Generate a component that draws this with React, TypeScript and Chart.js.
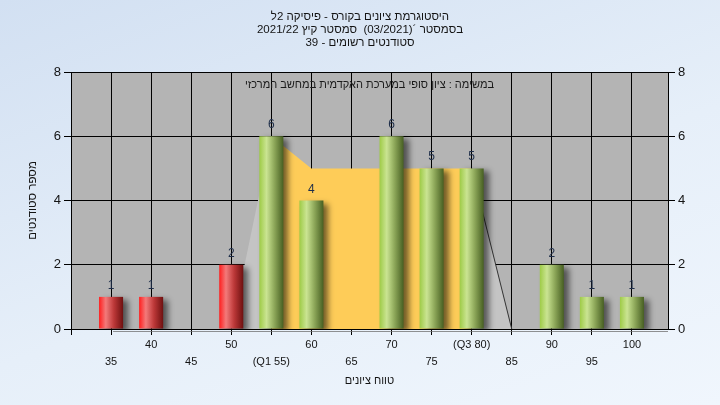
import React, { useEffect, useRef } from 'react';
import { Chart, registerables } from 'chart.js';

Chart.register(...registerables);

// ---------- data ----------
const gradeBins = [35, 40, 45, 50, 55, 60, 65, 70, 75, 80, 85, 90, 95, 100];
const studentCounts = [1, 1, 0, 2, 6, 4, 0, 6, 5, 5, 0, 2, 1, 1];
const passMark = 55;
const q1Grade = 55;
const q3Grade = 80;
const areaBins = [50, 55, 60, 65, 70, 75, 80, 85];
const areaValues = [0, 6, 5, 5, 5, 5, 5, 0];
const yMin = 0;
const yMax = 8;
const yStep = 2;
const xMin = 30;
const xMax = 104.5;
const xStep = 5;

const titleLines = [
  'היסטוגרמת ציונים בקורס - פיסיקה 2ל',
  'בסמסטר ´(03/2021)  סמסטר קיץ 2021/22',
  'סטודנטים רשומים - 39',
];
const subtitleText = 'במשימה : ציון סופי במערכת האקדמית במחשב המרכזי';
const xAxisTitle = 'טווח ציונים';
const yAxisTitle = 'מספר סטודנטים';

// ---------- helpers ----------
const FONT = "'Liberation Sans', Arial, sans-serif";
const TEXT = '#141414';
// render a Hebrew line as a right-to-left paragraph
const rtl = (s: string) => '\u2067' + s + '\u2069';

const tickText = gradeBins.map((g) =>
  g === q1Grade ? `(Q1 ${g})` : g === q3Grade ? `(Q3 ${g})` : String(g)
);

const redStops: [number, string][] = [
  [0, '#FF1E1E'],
  [0.28, '#F37A7A'],
  [0.62, '#BC3838'],
  [1, '#6E1010'],
];
const greenStops: [number, string][] = [
  [0, '#9ECB46'],
  [0.3, '#CAE492'],
  [0.62, '#8EA85A'],
  [1, '#475F22'],
];

const plotBg = {
  id: 'plotBg',
  beforeDraw(chart: any) {
    const { ctx, chartArea: a } = chart;
    ctx.save();
    ctx.fillStyle = '#B4B4B4';
    ctx.fillRect(a.left, a.top, a.right - a.left, a.bottom - a.top);
    ctx.restore();
  },
};

const barShadow = {
  id: 'barShadow',
  beforeDatasetDraw(chart: any, args: any) {
    if (chart.data.datasets[args.index].type !== 'bar') return;
    const c = chart.ctx;
    c.save();
    c.shadowColor = 'rgba(0,0,0,0.55)';
    c.shadowBlur = 6;
    c.shadowOffsetX = 5;
    c.shadowOffsetY = 3;
  },
  afterDatasetDraw(chart: any, args: any) {
    if (chart.data.datasets[args.index].type !== 'bar') return;
    chart.ctx.restore();
  },
};

const valueLabels = {
  id: 'valueLabels',
  afterDatasetsDraw(chart: any) {
    const c = chart.ctx;
    const a = chart.chartArea;
    const xs = chart.scales.x;
    // faint floor line under the bars
    c.save();
    c.strokeStyle = 'rgba(110,110,110,0.75)';
    c.lineWidth = 1;
    c.beginPath();
    c.moveTo(xs.getPixelForValue(gradeBins[0]) + 2, a.bottom + 2.5);
    c.lineTo(a.right, a.bottom + 2.5);
    c.stroke();
    c.restore();

    chart.data.datasets.forEach((ds: any, di: number) => {
      if (ds.type !== 'bar') return;
      const meta = chart.getDatasetMeta(di);
      meta.data.forEach((el: any, i: number) => {
        const v = ds.data[i].y;
        if (!v) return;
        c.save();
        c.font = `12px ${FONT}`;
        c.fillStyle = '#1E2E4A';
        c.textAlign = 'center';
        c.textBaseline = 'alphabetic';
        c.fillText(String(v), el.x, el.y - 8);
        c.restore();
      });
    });
    // subtitle inside the plot
    c.save();
    c.font = `11px ${FONT}`;
    c.fillStyle = '#1a1a1a';
    c.textAlign = 'center';
    c.textBaseline = 'middle';
    c.fillText(rtl(subtitleText), (a.left + a.right) / 2, a.top + 13);
    c.restore();
  },
};

export default function App() {
  const ref = useRef<HTMLCanvasElement>(null);

  useEffect(() => {
    const canvas = ref.current;
    if (!canvas) return;

    const barBg = (c: any) => {
      const chart = c.chart;
      const xs = chart.scales && chart.scales.x;
      if (c.type !== 'data' || !xs || !c.raw) return '#999';
      const xc = xs.getPixelForValue(c.raw.x);
      const half = Math.abs(xs.getPixelForValue(c.raw.x + 1.5) - xc);
      if (!isFinite(xc) || !isFinite(half) || half <= 0) return '#999';
      const g = chart.ctx.createLinearGradient(xc - half, 0, xc + half, 0);
      const stops = c.raw.x < passMark ? redStops : greenStops;
      stops.forEach(([o, col]) => g.addColorStop(o, col));
      return g;
    };

    const chart = new Chart(canvas, {
      type: 'bar',
      data: {
        datasets: [
          {
            type: 'line',
            data: areaBins.map((b, i) => ({ x: b, y: areaValues[i] })),
            fill: 'origin',
            pointRadius: 0,
            borderWidth: 1,
            tension: 0,
            order: 2,
            backgroundColor: '#C6C6C6',
            borderColor: 'rgba(0,0,0,0)',
            segment: {
              backgroundColor: (s: any) =>
                s.p0.parsed.x >= q1Grade && s.p1.parsed.x <= q3Grade ? '#FECC58' : '#C4C4C4',
              borderColor: (s: any) => (s.p0.parsed.x >= q3Grade ? '#333333' : 'rgba(0,0,0,0)'),
            },
          } as any,
          {
            type: 'bar',
            data: gradeBins.map((g, i) => ({ x: g, y: studentCounts[i] })),
            backgroundColor: barBg,
            borderWidth: 0,
            barPercentage: 0.6,
            categoryPercentage: 1,
            order: 1,
          } as any,
        ],
      },
      options: {
        animation: false,
        responsive: true,
        maintainAspectRatio: false,
        events: [],
        layout: { padding: 0 },
        plugins: {
          legend: { display: false },
          tooltip: { enabled: false },
          title: {
            display: true,
            text: titleLines.map(rtl),
            color: TEXT,
            font: { family: FONT, size: 11.5, weight: 'normal', lineHeight: 13 / 11.5 },
            padding: { top: 10, bottom: 23 },
          },
        },
        scales: {
          x: {
            type: 'linear',
            position: 'bottom',
            min: xMin,
            max: xMax,
            offset: false,
            afterFit: (s: any) => {
              s.height = 76;
            },
            border: { display: true, color: '#000', width: 1 },
            grid: { color: '#000', lineWidth: 1, tickLength: 6, drawTicks: true, offset: false },
            ticks: {
              stepSize: xStep,
              includeBounds: false,
              autoSkip: false,
              maxRotation: 0,
              minRotation: 0,
              padding: 1,
              color: TEXT,
              font: { family: FONT, size: 11, lineHeight: 17 / 11 },
              callback: (v: any) => {
                const i = gradeBins.indexOf(Number(v));
                if (i < 0) return '';
                return i % 2 === 0 ? ['', tickText[i]] : [tickText[i]];
              },
            },
            title: {
              display: true,
              text: rtl(xAxisTitle),
              color: TEXT,
              font: { family: FONT, size: 11 },
              padding: { top: 0, bottom: 17 },
            },
          },
          y: {
            position: 'left',
            min: yMin,
            max: yMax,
            afterFit: (s: any) => {
              s.width = 71;
            },
            border: { display: true, color: '#000', width: 1 },
            grid: { color: '#000', lineWidth: 1, tickLength: 7 },
            ticks: {
              stepSize: yStep,
              padding: 3,
              color: TEXT,
              font: { family: FONT, size: 13 },
            },
            title: {
              display: true,
              text: rtl(yAxisTitle),
              color: TEXT,
              font: { family: FONT, size: 11.5 },
              padding: { top: 26, bottom: 0 },
            },
          },
          y2: {
            position: 'right',
            min: yMin,
            max: yMax,
            afterFit: (s: any) => {
              s.width = 52;
            },
            border: { display: true, color: '#000', width: 1 },
            grid: { color: '#000', lineWidth: 1, tickLength: 7, drawOnChartArea: false },
            ticks: {
              stepSize: yStep,
              padding: 3,
              color: TEXT,
              font: { family: FONT, size: 13 },
            },
          },
        },
      } as any,
      plugins: [plotBg, barShadow, valueLabels],
    });

    return () => chart.destroy();
  }, []);

  return (
    <div
      style={{
        position: 'absolute',
        left: 0,
        top: 0,
        width: 720,
        height: 405,
        background: 'linear-gradient(160deg, #D2E0F2 0%, #E6EFF9 55%, #F0F6FD 100%)',
      }}
    >
      <canvas ref={ref} style={{ display: 'block' }} />
    </div>
  );
}
